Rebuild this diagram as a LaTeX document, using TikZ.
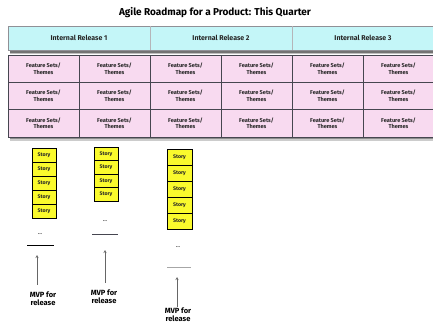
\documentclass[tikz,border=0pt]{standalone}
\usepackage{fontspec}
\setmainfont{Fira Sans}
\usetikzlibrary{arrows.meta,shadows}
\definecolor{hdr}{RGB}{196,246,248}
\definecolor{cellpink}{RGB}{248,218,240}
\definecolor{storyyel}{RGB}{250,250,45}
\definecolor{gridline}{RGB}{70,70,80}
\begin{document}
\begin{tikzpicture}[x=1pt,y=-1pt,
  cell/.style={draw=gridline, fill=cellpink, minimum width=71pt, minimum height=27.3pt, inner sep=0pt, align=center, font=\fontsize{5.6}{6.6}\selectfont\bfseries, text=black!85, line width=0.5pt},
  hdrtext/.style={font=\fontsize{7}{8}\selectfont\bfseries, text=black!85},
  storybox/.style={draw=black, fill=storyyel, minimum width=24pt, inner sep=0pt, font=\fontsize{5.2}{6}\selectfont\bfseries, text=black!85, line width=0.6pt, drop shadow={shadow xshift=1.2pt, shadow yshift=-1.2pt, opacity=0.5}},
  mvp/.style={align=center, font=\fontsize{7.5}{8}\selectfont\bfseries, inner sep=0pt},
  dotsnode/.style={font=\fontsize{6}{6}\selectfont, inner sep=0pt},
  arr/.style={draw=gray!80!black, line width=0.5pt, -{Stealth[open, length=3pt, width=3pt]}}
]
\useasboundingbox[fill=white] (0,0) rectangle (433,328);
\begin{scope}
\clip (0,0) rectangle (433,328);
% title
\node[font=\fontsize{10}{11}\selectfont\bfseries] (title) at (215,13) {Agile Roadmap for a Product: This Quarter};
% header
\fill[black!55] (10,29) rectangle (440,53);
\fill[black!25] (10,53) rectangle (440,54.5);
\draw[draw=gridline!60, fill=hdr, line width=0.4pt] (8,26) rectangle (440,50.5);
\draw[draw=gridline!40, line width=0.4pt] (150,26) -- (150,50.5) (292,26) -- (292,50.5);
\node[hdrtext] (h1) at (79,38) {Internal Release 1};
\node[hdrtext] (h2) at (221,38) {Internal Release 2};
\node[hdrtext] (h3) at (363,38) {Internal Release 3};
% grid shadow
\fill[black!45] (10,57) rectangle (440,139.5);
\fill[black!20] (10,139.5) rectangle (440,141);
\foreach \r/\yy in {1/68.65, 2/95.95, 3/123.25}{
  \foreach \c/\xx in {1/43.5, 2/114.5, 3/185.5, 4/256.5, 5/327.5, 6/398.5}{
    \node[cell] (c\r\c) at (\xx,\yy) {Feature Sets/\\Themes};
  }
}
% stories column 1
\foreach \i/\yy in {1/155, 2/169, 3/183, 4/197, 5/211}{
  \node[storybox, minimum height=14pt] (sa\i) at (44,\yy) {Story};
}
% stories column 2
\foreach \i/\yy in {1/154, 2/167.5, 3/181, 4/194.5}{
  \node[storybox, minimum height=13.5pt] (sb\i) at (106,\yy) {Story};
}
% stories column 3
\foreach \i/\yy in {1/157, 2/173, 3/189, 4/205, 5/221}{
  \node[storybox, minimum height=16pt, minimum width=25pt] (sc\i) at (179.5,\yy) {Story};
}
\end{scope}
% column 1 bottom
\node[dotsnode] (d1) at (40,234) {...};
\coordinate (la1) at (27,246);
\coordinate (lb1) at (54,246);
\draw[line width=1pt] (la1) -- (lb1);
\node[mvp] (m1) at (43,299) {MVP for\\release};
\coordinate (a1) at (37,255);
\draw[arr] (m1.north -| a1) ++(0,-7) -- (a1);
% column 2 bottom
\node[dotsnode] (d2) at (105,221) {...};
\coordinate (la2) at (92,234);
\coordinate (lb2) at (118,234);
\draw[line width=0.8pt, gridline] (la2) -- (lb2);
\node[mvp] (m2) at (104,297) {MVP for\\release};
\coordinate (a2) at (105,250);
\draw[arr] (m2.north -| a2) ++(0,-7) -- (a2);
% column 3 bottom
\node[dotsnode] (d3) at (178,247) {...};
\coordinate (la3) at (167,267);
\coordinate (lb3) at (191,267);
\draw[line width=0.6pt, gray!70] (la3) -- (lb3);
\node[mvp] (m3) at (178,315) {MVP for\\release};
\coordinate (a3) at (177,277);
\draw[arr] (m3.north -| a3) ++(0,-1) -- (a3);
\end{tikzpicture}
\end{document}
